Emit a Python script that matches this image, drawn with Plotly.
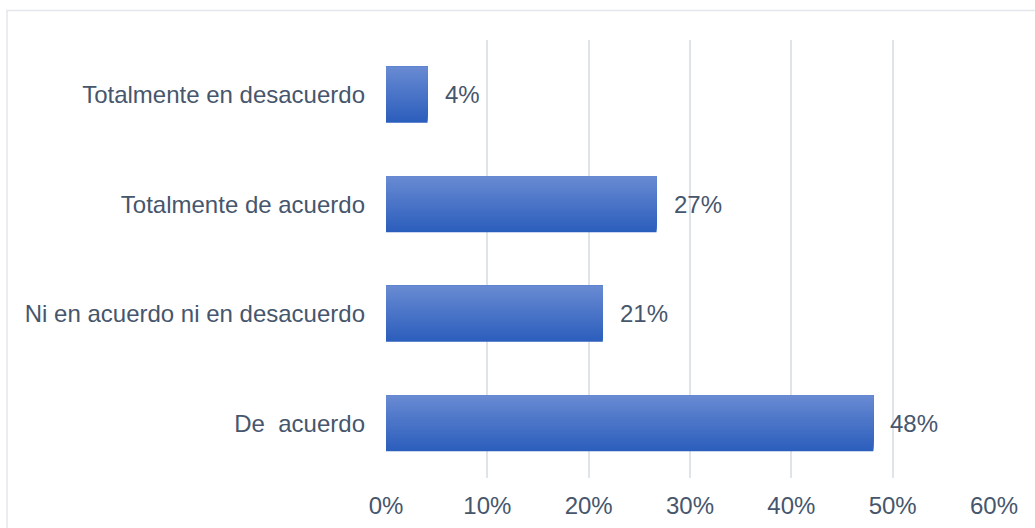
import plotly.graph_objects as go

categories = ["De\u00a0 acuerdo", "Ni en acuerdo ni en desacuerdo",
              "Totalmente de acuerdo", "Totalmente en desacuerdo"]
values = [48.1, 21.4, 26.7, 4.1]
labels = ["48%", "21%", "27%", "4%"]
x_ticks = [0, 10, 20, 30, 40, 50, 60]
x_tick_text = ["0%", "10%", "20%", "30%", "40%", "50%", "60%"]

W, H = 1035, 528
TEXT = "#46566C"
FONT = "Liberation Sans, Arial, sans-serif"

top_rgb = (104, 138, 210)
bot_rgb = (44, 94, 188)
N = 28
bar_w = 0.51

fig = go.Figure()
for i in range(N):
    t = i / (N - 1)
    c = tuple(round(bot_rgb[k] + (top_rgb[k] - bot_rgb[k]) * t) for k in range(3))
    off = -bar_w / 2 + i * bar_w / N
    fig.add_trace(go.Bar(
        y=categories, x=values, orientation="h",
        width=bar_w / 2 - off, offset=off,
        marker=dict(color="rgb(%d,%d,%d)" % c, line=dict(width=0)),
        hoverinfo="skip", showlegend=False,
    ))

for cat, v, lab in zip(categories, values, labels):
    fig.add_annotation(x=v, y=cat, text=lab, showarrow=False, xanchor="left",
                       xshift=15, font=dict(size=24, color=TEXT, family=FONT))

L, R, T, B = 386, 41, 40, 50
fig.update_layout(
    width=W, height=H, barmode="overlay",
    margin=dict(l=L, r=R, t=T, b=B, autoexpand=False),
    paper_bgcolor="white", plot_bgcolor="white",
    font=dict(family=FONT, size=24, color=TEXT),
    xaxis=dict(range=[0, 60], tickvals=x_ticks, ticktext=x_tick_text,
               showgrid=True, gridcolor="#dfe3ea", gridwidth=1.5,
               zeroline=False, showline=False, ticks="", automargin=False,
               ticklabelstandoff=11, fixedrange=True),
    yaxis=dict(categoryorder="array", categoryarray=categories,
               showgrid=False, zeroline=False, showline=False, ticks="",
               automargin=False, ticklabelstandoff=20, range=[-0.5, 3.5]),
)

pw = W - L - R
ph = H - T - B
x0 = (7 - L) / pw
y1 = (H - 10.5 - B) / ph
x1 = (W + 5 - L) / pw
y0 = (-5 - B) / ph
fig.add_shape(type="rect", xref="paper", yref="paper", x0=x0, x1=x1, y0=y0, y1=y1,
              line=dict(color="#e3e6eb", width=1.5), layer="below")

fig.write_html("out.html")
